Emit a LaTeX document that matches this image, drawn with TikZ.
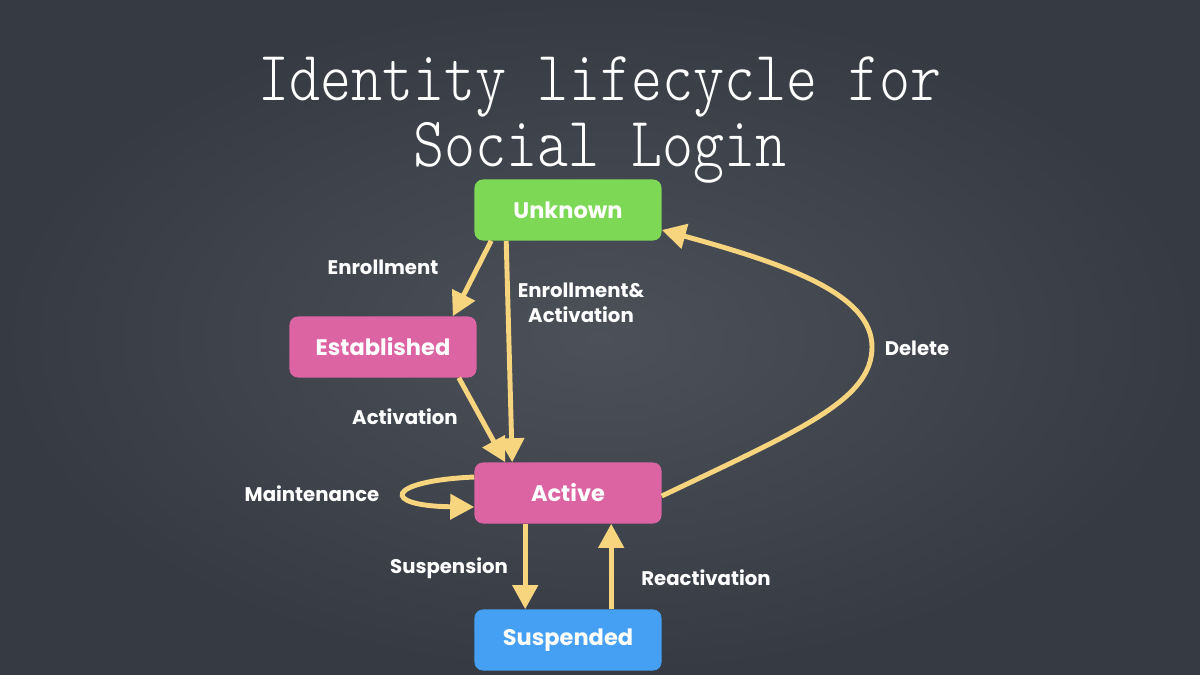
\documentclass[tikz,border=0pt]{standalone}
\usepackage{fontspec}
\usepackage{graphicx}
\setsansfont{Poppins}
\usetikzlibrary{arrows.meta,calc}
\definecolor{boardin}{HTML}{4B5059}
\definecolor{boardout}{HTML}{363A43}
\definecolor{cgreen}{HTML}{7DD856}
\definecolor{cpink}{HTML}{DC64A2}
\definecolor{cblue}{HTML}{45A0F3}
\definecolor{cyel}{HTML}{F6D57E}
\tikzset{
  state/.style={rounded corners=6pt, minimum width=4.675cm, minimum height=1.525cm,
    text=white, font=\sffamily\bfseries\fontsize{16}{18}\selectfont, inner sep=0pt},
  lbl/.style={text=white, font=\sffamily\bfseries\fontsize{14}{16}\selectfont, align=center, inner sep=0pt},
  ttl/.style={text=white, font=\ttfamily\fontseries{l}\fontsize{42}{44}\selectfont, inner sep=0pt},
  conn/.style={draw=cyel, line width=3.5pt, -{Triangle[length=0.6cm,width=0.62cm]}}
}
\begin{document}
\begin{tikzpicture}[x=0.025cm,y=-0.025cm]
\shade[inner color=boardin, outer color=boardout] (0,0) rectangle (1200,675);
\useasboundingbox (0,0) rectangle (1200,675);

\node[ttl, anchor=north] (title) at (600,48)
  {\scalebox{1}[1.2]{\begin{tabular}{@{}c@{}}Identity lifecycle for\\[-4.6pt]Social Login\end{tabular}}};

\node[state, fill=cgreen] (unknown) at (568,210) {Unknown};
\node[state, fill=cpink] (established) at (383,347) {Established};
\node[state, fill=cpink] (active) at (568,493) {Active};
\node[state, fill=cblue] (suspended) at (568,640) {Suspended};

\draw[conn] ($(unknown.south west)+(17,0)$) -- ($(established.north east)+(-24,0)$);
\draw[conn] ($(unknown.south west)+(32,0)$) -- ($(active.north west)+(38,0)$);
\draw[conn] ($(established.south east)+(-18,0)$) -- ($(active.north west)+(31,0)$);
\draw[conn] ($(active.west)+(0,-16)$) .. controls (385,481) and (380,506) .. ($(active.west)+(0,14)$);
\draw[conn] ($(active.south west)+(51,0)$) -- ($(suspended.north west)+(51,0)$);
\draw[conn] ($(suspended.north west)+(137,0)$) -- ($(active.south west)+(137,0)$);
\draw[conn] ($(active.east)+(0,3)$) .. controls (800,430) and (872,400) .. (872,347)
   .. controls (872,295) and (790,265) .. ($(unknown.east)+(0,20)$);

\node[lbl] (lenroll) at (383,267) {Enrollment};
\node[lbl] (lenact) at (581,303) {Enrollment\&\\[2pt]Activation};
\node[lbl] (lact) at (405,417) {Activation};
\node[lbl] (lmaint) at (312,494) {Maintenance};
\node[lbl] (lsusp) at (449,568) {Suspension};
\node[lbl] (lreact) at (706,578) {Reactivation};
\node[lbl] (ldel) at (917,348) {Delete};
\end{tikzpicture}
\end{document}
